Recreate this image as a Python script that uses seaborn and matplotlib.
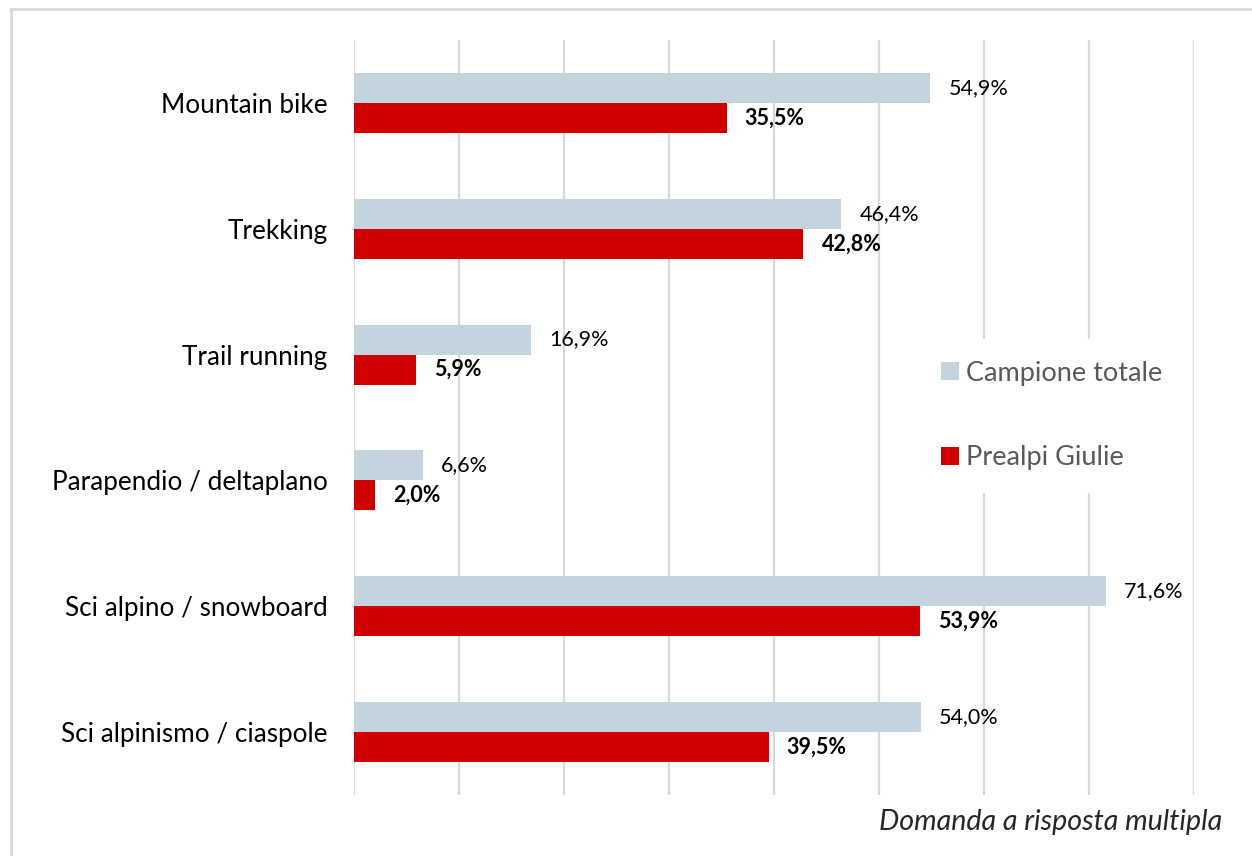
import matplotlib
matplotlib.use("Agg")
import matplotlib.pyplot as plt
import seaborn as sns
import pandas as pd
from matplotlib.patches import Rectangle

# Data
categories = ['Mountain bike', 'Trekking', 'Trail running',
              'Parapendio / deltaplano', 'Sci alpino / snowboard',
              'Sci alpinismo / ciaspole']
campione_totale = [54.9, 46.4, 16.9, 6.6, 71.6, 54.0]
prealpi_giulie = [35.5, 42.8, 5.9, 2.0, 53.9, 39.5]
series_names = ['Campione totale', 'Prealpi Giulie']
series_colors = ['#C4D4DE', '#D00000']

df = pd.DataFrame({
    'categoria': categories * 2,
    'valore': campione_totale + prealpi_giulie,
    'serie': [series_names[0]] * len(categories) + [series_names[1]] * len(categories),
})

sns.set_style("white")
plt.rcParams['font.family'] = ['Lato', 'DejaVu Sans']

fig = plt.figure(figsize=(12.52, 8.56), dpi=100)
ax = fig.add_axes([354 / 1252, 1 - 795 / 856, 840 / 1252, 755 / 856])

sns.barplot(data=df, x='valore', y='categoria', hue='serie', orient='h',
            palette=series_colors, width=0.477, ax=ax, saturation=1,
            linewidth=0)

ax.set_xlim(0, 80)
ax.set_ylim(5.5, -0.5)
ax.set_xticks(range(0, 81, 10))
ax.set_xticklabels([])
ax.grid(axis='x', color='#D9D9D9', linewidth=1.6)
ax.set_axisbelow(True)
for s in ax.spines.values():
    s.set_visible(False)
ax.set_xlabel('')
ax.set_ylabel('')
ax.tick_params(axis='y', length=0, pad=19, labelsize=18.8, labelcolor='#000000')
ax.tick_params(axis='x', length=0)

# value labels
for i, container in enumerate(ax.containers):
    labels = [f"{v:.1f}%".replace('.', ',') for v in container.datavalues]
    ax.bar_label(container, labels=labels, padding=13, fontsize=15.5,
                 fontweight='bold' if i == 1 else 'normal', color='#000000')

leg = ax.legend(loc='upper left', bbox_to_anchor=(0.657, 0.622), frameon=True,
                facecolor='white', edgecolor='white', framealpha=1,
                fontsize=19.5, labelcolor='#595959', handlelength=0.65,
                handleheight=0.65, handletextpad=0.28, labelspacing=2.2,
                borderpad=0.8)

fig.text(1222 / 1252, 1 - 822 / 856, 'Domanda a risposta multipla',
         ha='right', va='center', fontsize=20.6, style='italic')

fig.patches.append(Rectangle((11 / 1252, -0.1), 1.2, 1 - 9 / 856 + 0.1,
                             transform=fig.transFigure, fill=False,
                             edgecolor='#D9D9D9', linewidth=2))

fig.savefig('out.png', dpi=100)
